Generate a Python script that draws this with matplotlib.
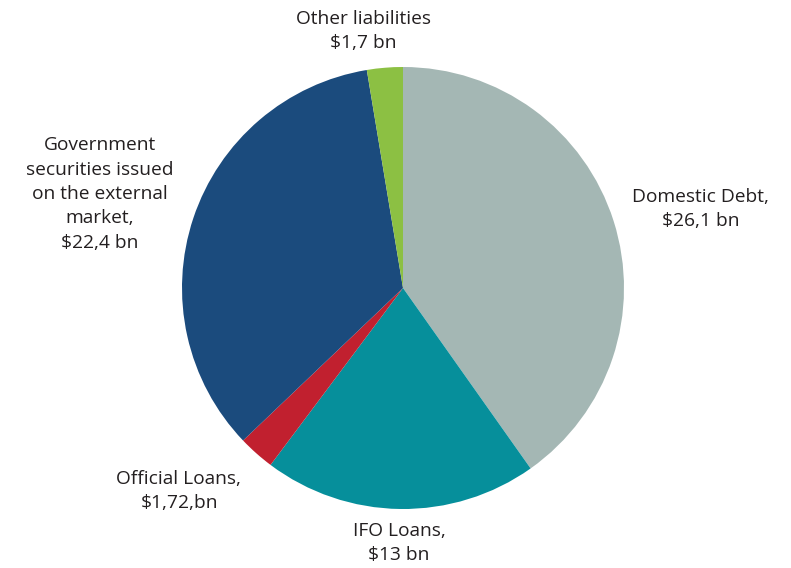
import matplotlib
matplotlib.use("Agg")
import matplotlib.pyplot as plt

# public debt structure, $ bn
labels = ["Domestic Debt,\n$26,1 bn", "IFO Loans,\n$13 bn", "Official Loans,\n$1,72,bn",
          "Government\nsecurities issued\non the external\nmarket,\n$22,4 bn",
          "Other liabilities\n$1,7 bn"]
values = [26.1, 13, 1.72, 22.4, 1.7]
colors = ["#A4B7B4", "#068F9B", "#C1202F", "#1B4B7D", "#8CC043"]

# label anchor points in pixel space (x, y from top)
label_pos = [(701, 209), (399, 543), (179, 491), (100, 194), (363, 31)]

W, H = 791, 568
fig = plt.figure(figsize=(W / 100, H / 100), dpi=100)
ax = fig.add_axes([0, 0, 1, 1])

ax.pie(values, colors=colors, startangle=90, counterclock=False,
       center=(403, H - 288), radius=221, frame=True,
       wedgeprops=dict(linewidth=0))
ax.set_xlim(0, W)
ax.set_ylim(0, H)
ax.set_aspect("equal")
ax.axis("off")

for text, (x, y) in zip(labels, label_pos):
    ax.text(x, H - y, text, ha="center", va="center", fontsize=13.8,
            family="Open Sans", color="#231f20", linespacing=1.45)

fig.savefig("out.png", dpi=100)
